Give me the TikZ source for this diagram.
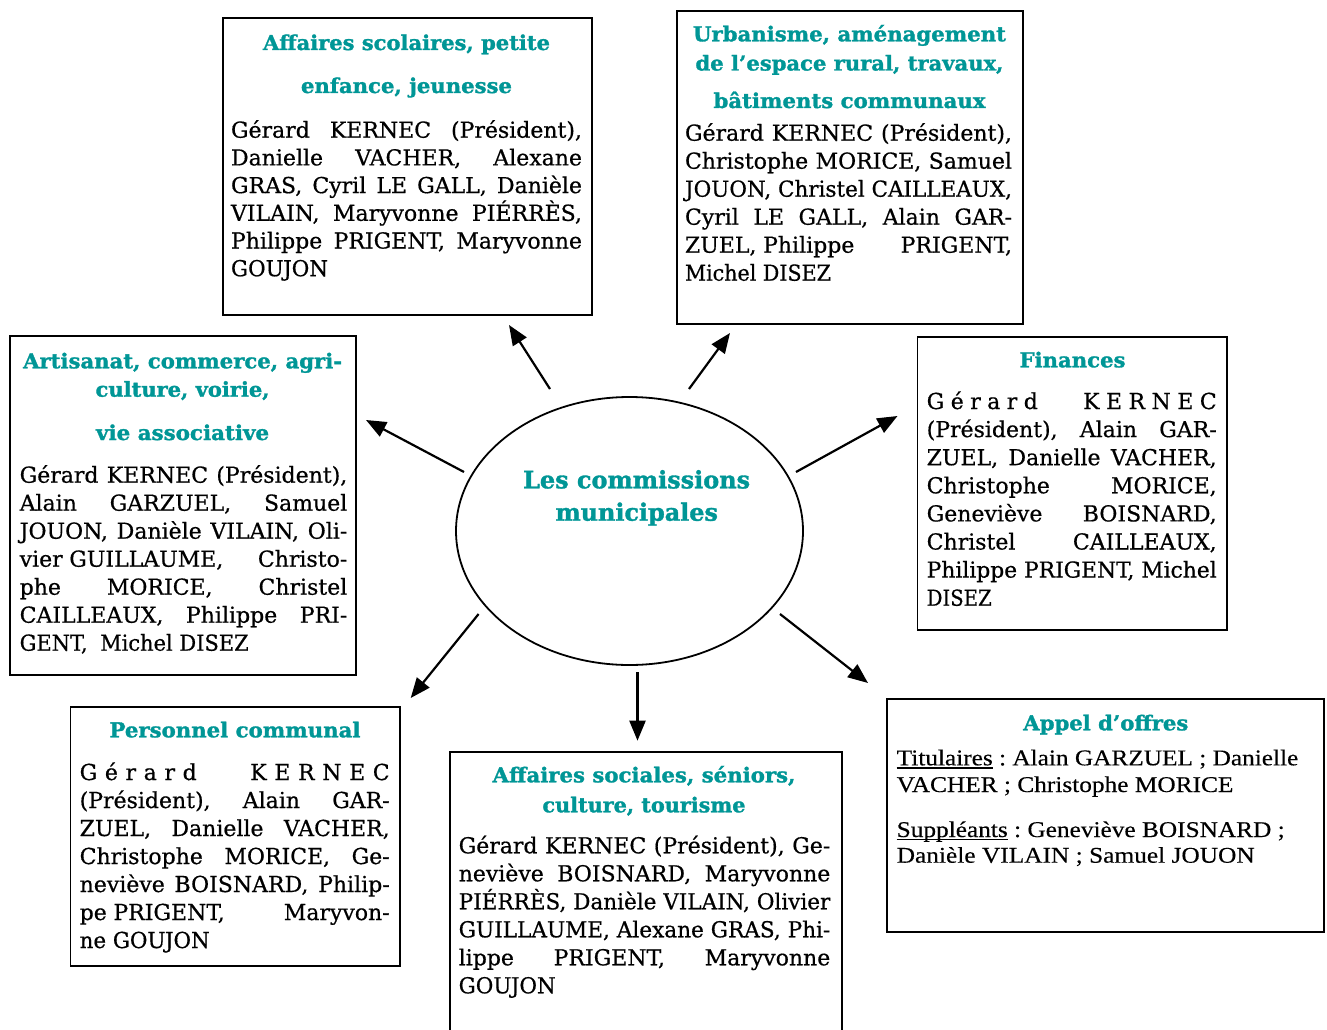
\documentclass[tikz,border=0pt]{standalone}
\usepackage{fontspec}
\usepackage{graphicx}
\setmainfont{DejaVu Serif}
\newfontfamily\bodyf{DejaVu Serif}[FakeBold=0.6]
\newfontfamily\ttlf{DejaVu Serif Bold}[FakeBold=1.4]
\newfontfamily\timesf{Liberation Serif}[FakeBold=0.3]
\usetikzlibrary{arrows.meta,shapes.geometric,fit}
\definecolor{tealc}{RGB}{0,150,150}
\frenchspacing
\newsavebox\lnbox
\newsavebox\ulbox
\newcommand\FitW[2]{\resizebox{#1}{\height}{#2}}
\newcommand\JustW[2]{\sbox\lnbox{#2}\ifdim\wd\lnbox>#1\relax\resizebox{#1}{\height}{#2}\else\hbox to #1{#2}\fi}
\newcommand\myul[1]{\sbox\ulbox{#1}\rlap{\rule[-3.2pt]{\wd\ulbox}{1.3pt}}\usebox\ulbox}
\tikzset{
  box/.style={draw=black,line width=1.8pt,inner sep=0pt,outer sep=0pt,rectangle},
  txt/.style={inner sep=0pt,outer sep=0pt,font=\bodyf\fontsize{22}{26}\selectfont},
  tms/.style={inner sep=0pt,outer sep=0pt,font=\timesf\fontsize{22.5}{26}\selectfont},
  ttl/.style={inner sep=0pt,outer sep=0pt,text=tealc,font=\ttlf\fontsize{20.5}{24}\selectfont},
  ctl/.style={inner sep=0pt,outer sep=0pt,text=tealc,font=\ttlf\fontsize{24}{28}\selectfont},
  arr/.style={line width=2.2pt,-{Triangle[length=20pt,width=16pt]}}
}
\newcommand\TL[5]{\node[ttl,anchor=base] (#1) at (#2,#3) {\FitW{#4pt}{#5}};}
\newcommand\JL[5]{\node[txt,anchor=base west] (#1) at (#2,#3) {\JustW{#4pt}{#5}};}
\newcommand\FL[5]{\node[txt,anchor=base west] (#1) at (#2,#3) {\FitW{#4pt}{#5}};}
\newcommand\ML[5]{\node[tms,anchor=base west] (#1) at (#2,#3) {\FitW{#4pt}{#5}};}
\begin{document}
\begin{tikzpicture}[x=1pt,y=-1pt]
\useasboundingbox (0,0) rectangle (1327,1030);
\fill[white] (0,0) rectangle (1327,1030);
% boxes
\node[box,fit={(222.7,18.3) (591.7,315)}] (b1) {};
\node[box,fit={(676.7,10.7) (1023.3,324)}] (b2) {};
\node[box,fit={(9.7,336) (356.3,675)}] (b3) {};
\node[box,fit={(917.5,336.7) (1226.7,630)}] (b4) {};
\node[box,fit={(70.5,706.7) (400,966)}] (b5) {};
\node[box,fit={(449.7,751.7) (842,1045)}] (b6) {};
\node[box,fit={(886.7,698.7) (1324.3,931.8)}] (b7) {};
% central ellipse
\node[draw=black,line width=1.8pt,ellipse,minimum width=347pt,minimum height=268pt,inner sep=0pt] (ell) at (629.5,531) {};
\node[ctl,anchor=base] (c1) at (636.6,488.3) {\FitW{227pt}{Les commissions}};
\node[ctl,anchor=base] (c2) at (636.7,520.7) {\FitW{162.5pt}{municipales}};
% box 1
\TL{b1t1}{406.5}{50}{287}{Affaires scolaires, petite}
\TL{b1t2}{406.5}{93}{211}{enfance, jeunesse}
\JL{b1l1}{231}{137.7}{351}{Gérard KERNEC (Président),}
\JL{b1l2}{231}{165.4}{351}{Danielle VACHER, Alexane}
\JL{b1l3}{231}{193.1}{351}{GRAS, Cyril LE GALL, Danièle}
\JL{b1l4}{231}{220.8}{351}{VILAIN, Maryvonne PIÉRRÈS,}
\JL{b1l5}{231}{248.5}{351}{Philippe PRIGENT, Maryvonne}
\FL{b1l6}{231}{276.2}{97}{GOUJON}
% box 2
\TL{b2t1}{849.5}{41.3}{313}{Urbanisme, aménagement}
\TL{b2t2}{849.5}{70.5}{308}{de l’espace rural, travaux,}
\TL{b2t3}{849.5}{108}{272}{bâtiments communaux}
\JL{b2l1}{685}{140.7}{327}{Gérard KERNEC (Président),}
\JL{b2l2}{685}{168.7}{327}{Christophe MORICE, Samuel}
\JL{b2l3}{685}{196.7}{327}{JOUON, Christel CAILLEAUX,}
\JL{b2l4}{685}{224.7}{327}{Cyril LE GALL, Alain GAR-}
\JL{b2l5}{685}{252.7}{327}{ZUEL,\hspace{.3em}Philippe PRIGENT,}
\FL{b2l6}{685}{280.7}{146}{Michel DISEZ}
% box 3
\TL{b3t1}{182.6}{368.3}{319}{Artisanat, commerce, agri-}
\TL{b3t2}{182.6}{396.7}{174}{culture, voirie,}
\TL{b3t3}{182.6}{440}{173}{vie associative}
\JL{b3l1}{19.7}{482.7}{327.6}{Gérard KERNEC (Président),}
\JL{b3l2}{19.7}{510.7}{327.6}{Alain GARZUEL, Samuel}
\JL{b3l3}{19.7}{538.7}{327.6}{JOUON, Danièle VILAIN, Oli-}
\JL{b3l4}{19.7}{566.7}{327.6}{vier\hspace{.3em}GUILLAUME, Christo-}
\JL{b3l5}{19.7}{594.7}{327.6}{phe MORICE, Christel}
\JL{b3l6}{19.7}{622.7}{327.6}{CAILLEAUX, Philippe PRI-}
\FL{b3l7}{19.7}{650.7}{229}{GENT,\hspace{.6em}Michel DISEZ}
% box 4
\TL{b4t1}{1072.5}{367.3}{106}{Finances}
\node[txt,anchor=base west] (b4l1) at (926.7,409) {\hbox to 290pt{G\hfil é\hfil r\hfil a\hfil r\hfil d\hskip0pt plus 7fil K\hfil E\hfil R\hfil N\hfil E\hfil C}};
\JL{b4l2}{926.7}{437.1}{290}{(Président), Alain GAR-}
\JL{b4l3}{926.7}{465.2}{290}{ZUEL, Danielle VACHER,}
\JL{b4l4}{926.7}{493.3}{290}{Christophe MORICE,}
\JL{b4l5}{926.7}{521.4}{290}{Geneviève BOISNARD,}
\JL{b4l6}{926.7}{549.5}{290}{Christel CAILLEAUX,}
\JL{b4l7}{926.7}{577.6}{290}{Philippe PRIGENT, Michel}
\FL{b4l8}{926.7}{605.7}{65}{DISEZ}
% box 5
\TL{b5t1}{235}{737.3}{251}{Personnel communal}
\node[txt,anchor=base west] (b5l1) at (79.7,780) {\hbox to 310pt{G\hfil é\hfil r\hfil a\hfil r\hfil d\hskip0pt plus 7fil K\hfil E\hfil R\hfil N\hfil E\hfil C}};
\JL{b5l2}{79.7}{808}{310}{(Président), Alain GAR-}
\JL{b5l3}{79.7}{836}{310}{ZUEL, Danielle VACHER,}
\JL{b5l4}{79.7}{864}{310}{Christophe MORICE, Ge-}
\JL{b5l5}{79.7}{892}{310}{neviève BOISNARD, Philip-}
\JL{b5l6}{79.7}{920}{310}{pe\hspace{.3em}PRIGENT, Maryvon-}
\FL{b5l7}{79.7}{948}{130}{ne GOUJON}
% box 6
\TL{b6t1}{644}{782.3}{303}{Affaires sociales, séniors,}
\TL{b6t2}{644}{812.3}{203}{culture, tourisme}
\JL{b6l1}{458.7}{853.3}{371.6}{Gérard KERNEC (Président), Ge-}
\JL{b6l2}{458.7}{881.3}{371.6}{neviève BOISNARD, Maryvonne}
\JL{b6l3}{458.7}{909.3}{371.6}{PIÉRRÈS, Danièle VILAIN, Olivier}
\JL{b6l4}{458.7}{937.3}{371.6}{GUILLAUME, Alexane GRAS, Phi-}
\JL{b6l5}{458.7}{965.3}{371.6}{lippe PRIGENT, Maryvonne}
\FL{b6l6}{458.7}{993.3}{97}{GOUJON}
% box 7
\TL{b7t1}{1105.8}{730.3}{165}{Appel d’offres}
\ML{b7l1}{896.7}{765.3}{401.6}{\myul{Titulaires} : Alain GARZUEL ; Danielle}
\ML{b7l2}{896.7}{792}{336.7}{VACHER ; Christophe MORICE}
\ML{b7l3}{896.7}{837}{388}{\myul{Suppléants} : Geneviève BOISNARD ;}
\ML{b7l4}{896.7}{862.7}{358}{Danièle VILAIN ; Samuel JOUON}
% arrows
\coordinate (s1) at (550,389); \coordinate (e1) at (509,325);
\coordinate (s2) at (689,389); \coordinate (e2) at (730,333);
\coordinate (s3) at (464,472); \coordinate (e3) at (366,420);
\coordinate (s4) at (796,472); \coordinate (e4) at (897.5,416);
\coordinate (s5) at (478.6,614); \coordinate (e5) at (410.7,698);
\coordinate (s6) at (637.5,672); \coordinate (e6) at (637.5,740.7);
\coordinate (s7) at (780,614); \coordinate (e7) at (868,683);
\foreach \i in {1,...,7}{\draw[arr] (s\i) -- (e\i);}
\end{tikzpicture}
\end{document}
